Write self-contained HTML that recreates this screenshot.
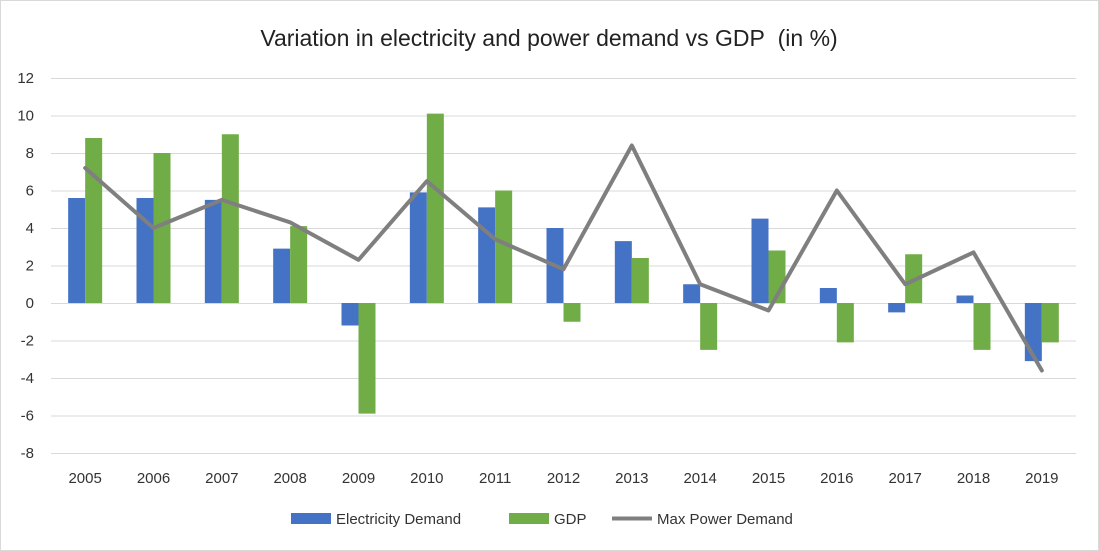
<!DOCTYPE html>
<html><head><meta charset="utf-8"><style>
body{margin:0;background:#fff;}
svg{display:block;font-family:"Liberation Sans",Calibri,sans-serif;}
</style></head><body>
<svg id="chart" width="1099" height="551">
<rect x="0.5" y="0.5" width="1098" height="550" fill="#fff" stroke="#d9d9d9"/>
<text x="549" y="46" text-anchor="middle" font-size="23" fill="#222">Variation in electricity and power demand vs GDP&#160; (in %)</text>
<g id="grid"></g><g id="bars"></g><g id="line"></g><g id="axes"></g>
<g>
<rect x="291" y="513" width="40" height="11" fill="#4472C4"/>
<text x="336" y="524" font-size="15" fill="#333">Electricity Demand</text>
<rect x="509" y="513" width="40" height="11" fill="#70AD47"/>
<text x="554" y="524" font-size="15" fill="#333">GDP</text>
<line x1="612" y1="518.5" x2="652" y2="518.5" stroke="#7f7f7f" stroke-width="4"/>
<text x="657" y="524" font-size="15" fill="#333">Max Power Demand</text>
</g>
</svg>
<script>
const categories=["2005","2006","2007","2008","2009","2010","2011","2012","2013","2014","2015","2016","2017","2018","2019"];
const electricity=[5.6,5.6,5.5,2.9,-1.2,5.9,5.1,4.0,3.3,1.0,4.5,0.8,-0.5,0.4,-3.1];
const gdp=[8.8,8.0,9.0,4.1,-5.9,10.1,6.0,-1.0,2.4,-2.5,2.8,-2.1,2.6,-2.5,-2.1];
const maxPower=[7.2,4.0,5.5,4.3,2.3,6.5,3.4,1.8,8.4,1.0,-0.4,6.0,1.0,2.7,-3.6];
const yTicks=[12,10,8,6,4,2,0,-2,-4,-6,-8];
const NS="http://www.w3.org/2000/svg";
const L=51,R=1076,T=78,B=453,ymin=-8,ymax=12;
const step=(R-L)/categories.length;
const y=v=>B-(v-ymin)/(ymax-ymin)*(B-T);
const xc=i=>L+step*(i+0.5);
function mk(tag,attrs,parent){const e=document.createElementNS(NS,tag);for(const k in attrs)e.setAttribute(k,attrs[k]);document.getElementById(parent).appendChild(e);return e;}
yTicks.forEach(t=>{
 const g=mk('line',{x1:L,x2:R,y1:y(t)+0.5,y2:y(t)+0.5,stroke:'#d9d9d9','stroke-width':1},'grid');
 
 
 const lb=mk('text',{x:34,y:y(t)+5,'text-anchor':'end','font-size':15,fill:'#333'},'axes');
 lb.textContent=t;
 
 
});
const bw=17;
categories.forEach((c,i)=>{
 const e=electricity[i],g=gdp[i];
 const b1=mk('rect',{x:xc(i)-bw,y:Math.min(y(e),y(0)),width:bw,height:Math.abs(y(e)-y(0)),fill:'#4472C4'},'bars');
 
 
 const b2=mk('rect',{x:xc(i),y:Math.min(y(g),y(0)),width:bw,height:Math.abs(y(g)-y(0)),fill:'#70AD47'},'bars');
 
 
 const lb=mk('text',{x:xc(i),y:483,'text-anchor':'middle','font-size':15,fill:'#333'},'axes');
 lb.textContent=c;
 
 
});
const pts=maxPower.map((v,i)=>xc(i)+','+y(v)).join(' ');
const pl=mk('polyline',{points:pts,fill:'none',stroke:'#7f7f7f','stroke-width':4,'stroke-linejoin':'round','stroke-linecap':'round'},'line');


</script>
</body></html>
